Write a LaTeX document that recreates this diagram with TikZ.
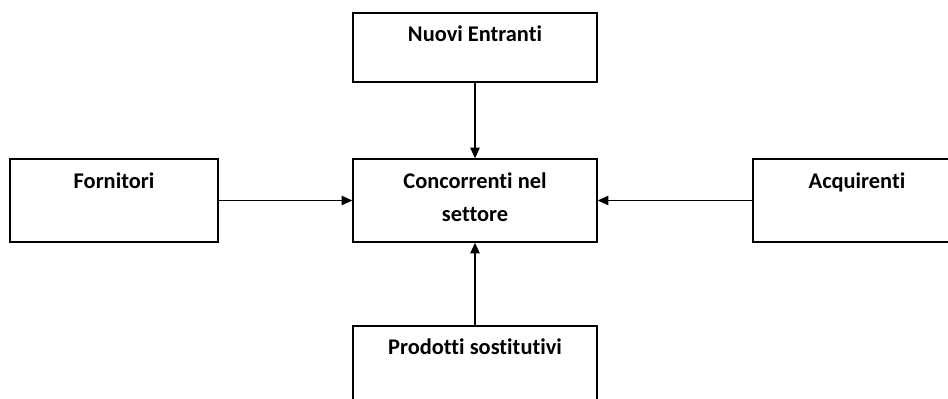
\documentclass[tikz,border=0pt]{standalone}
\usepackage{fontspec}
\setmainfont{Carlito}[Ligatures=NoCommon]
\usetikzlibrary{arrows.meta,positioning}

\tikzset{
	forza/.style={draw, line width=1pt, minimum width=183pt, minimum height=62.25pt, inner sep=0pt},
	testo/.style={font=\bfseries\fontsize{16.8}{24.5}\selectfont, text width=170pt, align=flush center, anchor=base, inner sep=0pt},
	freccia/.style={-{Triangle[length=8pt,width=7pt]}, line width=1pt}
}

\begin{document}
\begin{tikzpicture}[x=0.75pt,y=-0.75pt]
\useasboundingbox (0,0) rectangle (948,399);

% Riquadri
\node[forza, minimum height=51.75pt] (nuovi) at (475,47.5) {};
\node[forza] (concorrenti) at (475,200.5) {};
\node[forza, minimum width=156pt] (fornitori) at (114,200.5) {};
\node[forza, minimum width=156pt] (acquirenti) at (857,200.5) {};
\node[forza] (prodotti) at (475,367.5) {};

% Testi
\node[testo] (nuovi-t) at ([yshift=-21.75pt]nuovi.north) {Nuovi Entranti};
\node[testo] (concorrenti-t) at ([yshift=-22.5pt]concorrenti.north) {Concorrenti nel\\settore};
\node[testo] (fornitori-t) at ([yshift=-22.5pt]fornitori.north) {Fornitori};
\node[testo] (acquirenti-t) at ([yshift=-22.5pt]acquirenti.north) {Acquirenti};
\node[testo] (prodotti-t) at ([yshift=-21.75pt]prodotti.north) {Prodotti sostitutivi};

% Frecce
\draw[freccia] (nuovi) -- (concorrenti);
\draw[freccia] (prodotti) -- (concorrenti);
\draw[freccia] (fornitori) -- (concorrenti);
\draw[freccia] (acquirenti) -- (concorrenti);
\end{tikzpicture}
\end{document}
